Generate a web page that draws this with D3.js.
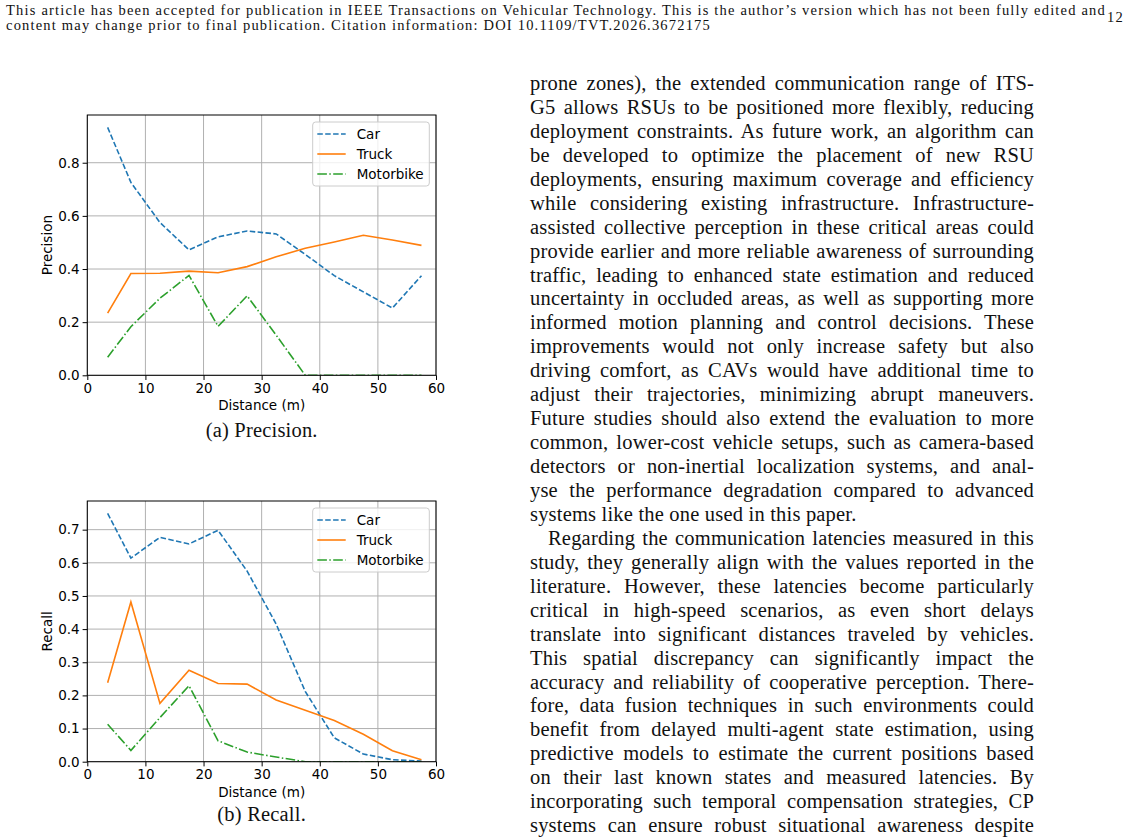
<!DOCTYPE html>
<html>
<head>
<meta charset="utf-8">
<script src="https://cdn.jsdelivr.net/npm/d3@7"></script>
<style>
  body { margin: 0; background: #fff; }
  svg text { font-kerning: normal; }
</style>
</head>
<body>
<svg id="page" width="1130" height="838"></svg>
<script>
// distance bins (m)
const distances = [3.5, 7.5, 12.5, 17.5, 22.5, 27.5, 32.5, 37.5, 42.5, 47.5, 52.5, 57.5];

// precision per class
const precisionCar       = [0.933, 0.726, 0.575, 0.472, 0.521, 0.543, 0.532, 0.455, 0.375, 0.314, 0.253, 0.375];
const precisionTruck     = [0.234, 0.383, 0.384, 0.392, 0.386, 0.409, 0.446, 0.478, 0.502, 0.527, 0.509, 0.489];
const precisionMotorbike = [0.068, 0.183, 0.290, 0.376, 0.184, 0.299, 0.151, 0.0, 0.0, 0.0, 0.0, 0.0];

// recall per class
const recallCar       = [0.749, 0.614, 0.677, 0.657, 0.698, 0.575, 0.415, 0.212, 0.072, 0.023, 0.006, 0.002];
const recallTruck     = [0.238, 0.482, 0.176, 0.276, 0.236, 0.234, 0.186, 0.155, 0.124, 0.083, 0.033, 0.006];
const recallMotorbike = [0.113, 0.034, 0.133, 0.229, 0.063, 0.029, 0.014, 0.0, 0.0, 0.0, 0.0, 0.0];

const seriesNames = ['Car', 'Truck', 'Motorbike'];
const xTicks = [0, 10, 20, 30, 40, 50, 60];
const precisionTicks = [0.0, 0.2, 0.4, 0.6, 0.8];
const recallTicks = [0.0, 0.1, 0.2, 0.3, 0.4, 0.5, 0.6, 0.7];

const headerLines = [
  'This article has been accepted for publication in IEEE Transactions on Vehicular Technology. This is the author\u2019s version which has not been fully edited and',
  'content may change prior to final publication. Citation information: DOI 10.1109/TVT.2026.3672175'
];

const bodyLines = [
  'prone zones), the extended communication range of ITS-',
  'G5 allows RSUs to be positioned more flexibly, reducing',
  'deployment constraints. As future work, an algorithm can',
  'be developed to optimize the placement of new RSU',
  'deployments, ensuring maximum coverage and efficiency',
  'while considering existing infrastructure. Infrastructure-',
  'assisted collective perception in these critical areas could',
  'provide earlier and more reliable awareness of surrounding',
  'traffic, leading to enhanced state estimation and reduced',
  'uncertainty in occluded areas, as well as supporting more',
  'informed motion planning and control decisions. These',
  'improvements would not only increase safety but also',
  'driving comfort, as CAVs would have additional time to',
  'adjust their trajectories, minimizing abrupt maneuvers.',
  'Future studies should also extend the evaluation to more',
  'common, lower-cost vehicle setups, such as camera-based',
  'detectors or non-inertial localization systems, and anal-',
  'yse the performance degradation compared to advanced',
  'systems like the one used in this paper.',
  'Regarding the communication latencies measured in this',
  'study, they generally align with the values reported in the',
  'literature. However, these latencies become particularly',
  'critical in high-speed scenarios, as even short delays',
  'translate into significant distances traveled by vehicles.',
  'This spatial discrepancy can significantly impact the',
  'accuracy and reliability of cooperative perception. There-',
  'fore, data fusion techniques in such environments could',
  'benefit from delayed multi-agent state estimation, using',
  'predictive models to estimate the current positions based',
  'on their last known states and measured latencies. By',
  'incorporating such temporal compensation strategies, CP',
  'systems can ensure robust situational awareness despite'
];
const paragraphEnds = [18];     // lines that are not justified
const paragraphStarts = [19];   // indented lines

const svg = d3.select('#page');
const serif = '"Liberation Serif", "DejaVu Serif", serif';
const sans = '"DejaVu Sans", sans-serif';

// stretch a text line to a given width by adjusting word spacing
function justify(sel, width) {
  sel.each(function() {
    const t = d3.select(this);
    const spaces = (t.text().match(/ /g) || []).length;
    if (!spaces) return;
    t.attr('word-spacing', null);
    const natural = this.getComputedTextLength();
    t.attr('word-spacing', (width - natural) / spaces);
  });
}

// letter spacing that makes one unjustified line reach a given width
function fitLetters(node, width) {
  const n = node.textContent.length;
  const natural = node.getComputedTextLength();
  return (width - natural) / n;
}

// header
const header = svg.append('g').attr('font-family', serif).attr('font-size', 14.5).attr('fill', '#111');
const headerText = header.selectAll('text')
  .data(headerLines)
  .enter().append('text')
  .attr('x', 6)
  .attr('y', (d, i) => 15 + i * 14.5)
  .text(d => d);
const headerLs = fitLetters(headerText.nodes()[1], 711 - 6);
headerText.attr('letter-spacing', headerLs);
justify(header.select('text'), 1100);
header.append('text').attr('x', 1107).attr('y', 21.5).attr('letter-spacing', headerLs).text('12');

// body column
const body = svg.append('g').attr('font-family', serif).attr('font-size', 20.5).attr('fill', '#111');
const bodyText = body.selectAll('text')
  .data(bodyLines)
  .enter().append('text')
  .attr('x', (d, i) => paragraphStarts.includes(i) ? 548 : 530)
  .attr('y', (d, i) => 90 + i * 23.94)
  .text(d => d);
const lineTarget = i => paragraphStarts.includes(i) ? 1034 - 548 : 1034 - 530;
// keep some room between words on the tightest justified line
let maxLs = Infinity;
bodyText.each(function(d, i) {
  if (paragraphEnds.includes(i)) return;
  const spaces = (d.match(/ /g) || []).length;
  const room = lineTarget(i) - this.getComputedTextLength() - spaces * 1.2;
  maxLs = Math.min(maxLs, room / d.length);
});
const bodyLs = Math.max(0, Math.min(fitLetters(bodyText.nodes()[paragraphEnds[0]], 882 - 530), maxLs));
bodyText.attr('letter-spacing', bodyLs)
  .each(function(d, i) {
    if (paragraphEnds.includes(i)) return;
    justify(d3.select(this), lineTarget(i));
  });

// one line chart
function drawChart(cfg) {
  const left = 87.3, right = 436;
  const x = d3.scaleLinear().domain([0, 60]).range([left, right]);
  const allVals = cfg.series.flat();
  const yMax = d3.max(allVals) * 1.05;
  const y = d3.scaleLinear().domain([0, yMax]).range([cfg.bottom, cfg.top]);

  const g = svg.append('g').attr('font-family', sans);

  // grid
  g.append('g').selectAll('line')
    .data(xTicks)
    .enter().append('line')
    .attr('x1', d => x(d)).attr('x2', d => x(d))
    .attr('y1', cfg.top).attr('y2', cfg.bottom)
    .attr('stroke', '#b0b0b0').attr('stroke-width', 1);
  g.append('g').selectAll('line')
    .data(cfg.yTicks)
    .enter().append('line')
    .attr('x1', left).attr('x2', right)
    .attr('y1', d => y(d)).attr('y2', d => y(d))
    .attr('stroke', '#b0b0b0').attr('stroke-width', 1);

  // series
  const colors = ['#1f77b4', '#ff7f0e', '#2ca02c'];
  const dashes = ['5.5,2.4', null, '9.6,2.4,1.5,2.4'];
  const line = d3.line().x((d, i) => x(distances[i])).y(d => y(d));
  const clipId = 'clip' + cfg.id;
  g.append('clipPath').attr('id', clipId)
    .append('rect').attr('x', left).attr('y', cfg.top)
    .attr('width', right - left).attr('height', cfg.bottom - cfg.top);
  g.append('g').attr('clip-path', `url(#${clipId})`)
    .selectAll('path')
    .data(cfg.series)
    .enter().append('path')
    .attr('d', d => line(d))
    .attr('fill', 'none')
    .attr('stroke', (d, i) => colors[i])
    .attr('stroke-width', 1.6)
    .attr('stroke-dasharray', (d, i) => dashes[i]);

  // axes
  const xAxis = g.append('g')
    .attr('transform', `translate(0,${cfg.bottom})`)
    .call(d3.axisBottom(x).tickValues(xTicks).tickFormat(d3.format('d')).tickSize(4.7).tickPadding(3.5));
  const yAxis = g.append('g')
    .attr('transform', `translate(${left},0)`)
    .call(d3.axisLeft(y).tickValues(cfg.yTicks).tickFormat(d3.format('.1f')).tickSize(4.7).tickPadding(3));
  [xAxis, yAxis].forEach(a => {
    a.select('.domain').remove();
    a.selectAll('line').attr('stroke', '#000').attr('stroke-width', 1);
    a.selectAll('text').attr('font-family', sans).attr('font-size', 13.5).attr('fill', '#000');
  });

  // frame
  g.append('rect')
    .attr('x', left).attr('y', cfg.top)
    .attr('width', right - left).attr('height', cfg.bottom - cfg.top)
    .attr('fill', 'none').attr('stroke', '#000').attr('stroke-width', 1);

  // labels
  g.append('text')
    .attr('x', (left + right) / 2).attr('y', cfg.bottom + 35)
    .attr('text-anchor', 'middle').attr('font-size', 13.5)
    .text('Distance (m)');
  g.append('text')
    .attr('transform', `translate(52,${(cfg.top + cfg.bottom) / 2}) rotate(-90)`)
    .attr('text-anchor', 'middle').attr('font-size', 13.5)
    .text(cfg.ylabel);

  // legend
  const lx = 312.7, ly = cfg.top + 7;
  const legend = g.append('g');
  legend.append('rect')
    .attr('x', lx).attr('y', ly).attr('width', 116.6).attr('height', 64)
    .attr('rx', 3).attr('fill', '#fff').attr('fill-opacity', 0.8)
    .attr('stroke', '#cccccc').attr('stroke-width', 1);
  const item = legend.selectAll('g.item')
    .data(seriesNames)
    .enter().append('g')
    .attr('transform', (d, i) => `translate(0,${ly + 12 + i * 20})`);
  item.append('line')
    .attr('x1', lx + 4.6).attr('x2', lx + 33)
    .attr('stroke', (d, i) => colors[i])
    .attr('stroke-width', 1.6)
    .attr('stroke-dasharray', (d, i) => dashes[i]);
  item.append('text')
    .attr('x', lx + 44).attr('dy', '0.36em')
    .attr('font-size', 13.5)
    .text(d => d);

  // caption
  svg.append('text')
    .attr('x', (left + right) / 2).attr('y', cfg.captionY)
    .attr('text-anchor', 'middle')
    .attr('font-family', serif).attr('font-size', 20.5).attr('fill', '#111')
    .attr('letter-spacing', bodyLs)
    .text(cfg.caption);
}

drawChart({
  id: 'a', top: 115, bottom: 375.3,
  series: [precisionCar, precisionTruck, precisionMotorbike],
  yTicks: precisionTicks, ylabel: 'Precision',
  caption: '(a) Precision.', captionY: 437
});

drawChart({
  id: 'b', top: 501, bottom: 761.7,
  series: [recallCar, recallTruck, recallMotorbike],
  yTicks: recallTicks, ylabel: 'Recall',
  caption: '(b) Recall.', captionY: 821
});
</script>
</body>
</html>
